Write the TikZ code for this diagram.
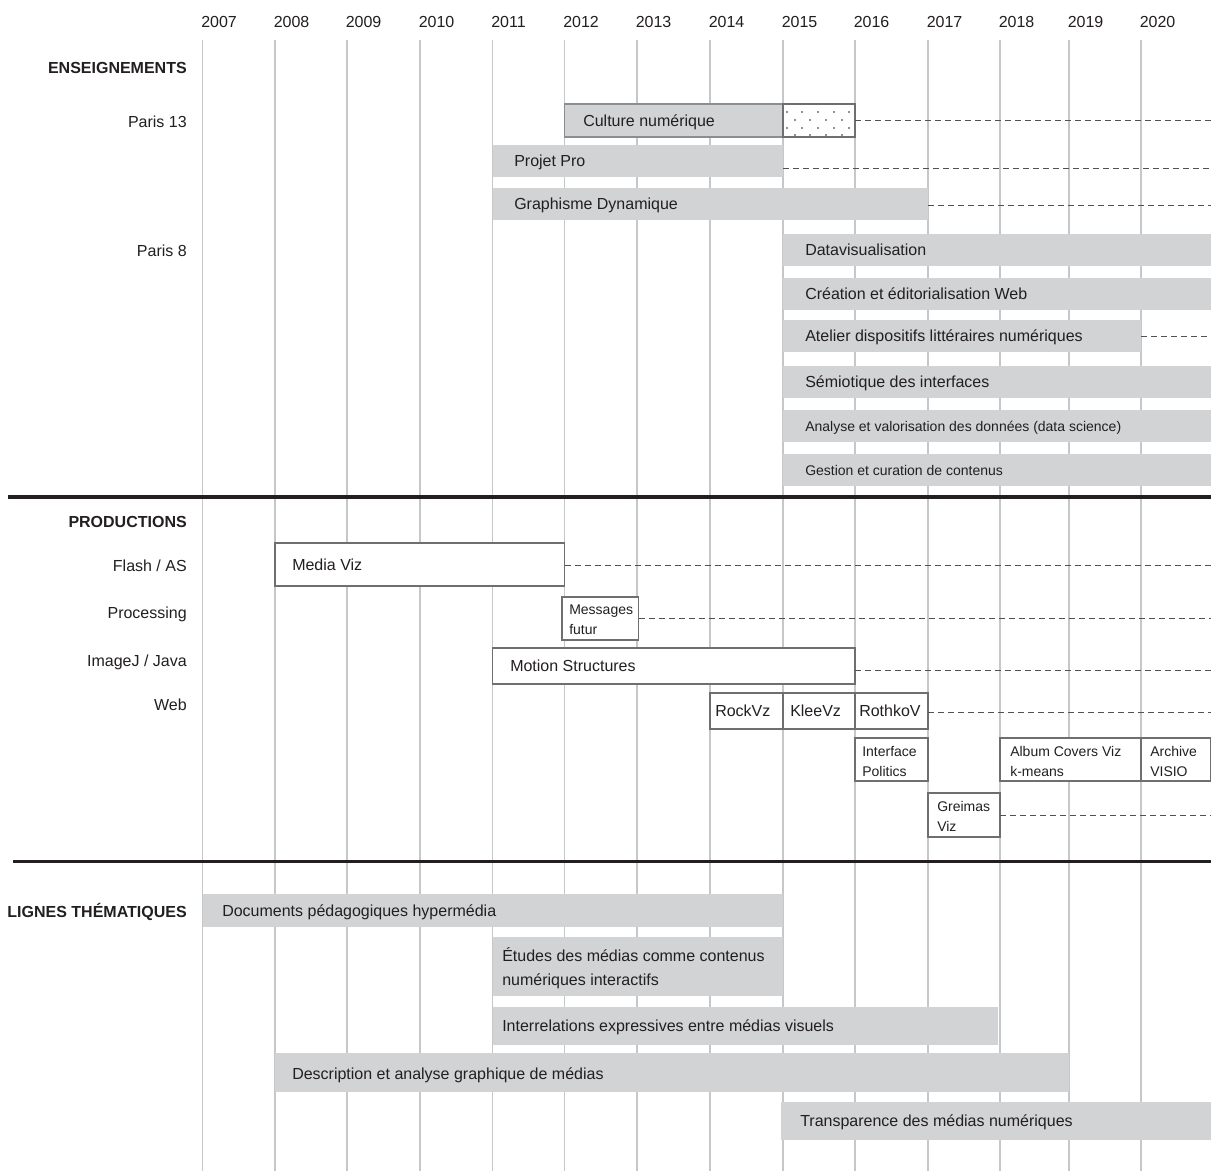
\documentclass[tikz,border=0pt]{standalone}
\usepackage{fontspec}
\setmainfont{Liberation Sans}
\usetikzlibrary{fit}
\definecolor{barfill}{RGB}{209,211,212}
\definecolor{gridcol}{RGB}{198,199,201}
\definecolor{boxline}{RGB}{110,111,113}
\definecolor{cnline}{RGB}{140,141,143}
\definecolor{dashcol}{RGB}{80,81,83}
\definecolor{ink}{RGB}{35,31,32}
\begin{document}
\begin{tikzpicture}[x=0.75pt,y=-0.75pt,
  lbl/.style={font=\fontsize{12}{14}\selectfont,text=ink,inner sep=0pt,text height=8.6pt,text depth=0pt,anchor=west},
  slbl/.style={font=\fontsize{10.5}{12}\selectfont,text=ink,inner sep=0pt,text height=7.5pt,text depth=0pt,anchor=west},
  rowlbl/.style={lbl,anchor=east},
  hdr/.style={lbl,font=\fontsize{12}{14}\selectfont\bfseries,anchor=east},
  graybar/.style={fill=barfill,draw=none,inner sep=0pt,outer sep=0pt},
  cnbar/.style={fill=barfill,draw=cnline,line width=0.8pt,inner sep=0pt,outer sep=0pt},
  wbox/.style={fill=white,draw=boxline,line width=0.8pt,inner sep=0pt,outer sep=0pt},
  dashline/.style={draw=dashcol,line width=0.75pt,dash pattern=on 4.5pt off 3pt},
  gridline/.style={draw=gridcol,line width=1.1pt},
  sepline/.style={draw=ink,line width=2.3pt}]
\useasboundingbox (0,0) rectangle (1211,1171);
\fill[white] (0,0) rectangle (1211,1171);

% year grid
\foreach \yr/\xx in {2007/202.5,2008/275,2009/347,2010/420,2011/492.5,2012/564.5,2013/637,2014/710,2015/783,2016/855,2017/928,2018/1000,2019/1069,2020/1141}{
  \draw[gridline] (\xx,40) -- (\xx,1171);
  \node[lbl] (y\yr) at (\xx-1.5,21.5) {\yr};
}

% right edge coordinates for open-ended lines
\coordinate (r1) at (1211,120.5);
\coordinate (r2) at (1211,168);
\coordinate (r3) at (1211,205);
\coordinate (r4) at (1211,336);
\coordinate (r5) at (1211,565);
\coordinate (r6) at (1211,618);
\coordinate (r7) at (1211,670);
\coordinate (r8) at (1211,712);
\coordinate (r9) at (1211,815);

% ENSEIGNEMENTS
\node[hdr] (hEns) at (187,68) {ENSEIGNEMENTS};
\node[rowlbl] (lP13) at (187,121.5) {Paris 13};
\node[rowlbl] (lP8) at (187,250.5) {Paris 8};

\node[cnbar,fit={(564.5,104) (783,137)}] (cn) {};
\node[wbox,fit={(783,104) (855,137)}] (cndot) {};
\foreach \px in {787,802,818,834,849}{\fill[ink] (\px,112) circle (0.6pt); \fill[ink] (\px,128) circle (0.6pt);}
\foreach \px in {795,810,826,842}{\fill[ink] (\px,120) circle (0.6pt); \fill[ink] (\px,135) circle (0.6pt);}
\node[lbl] (tcn) at (583,120.5) {Culture numérique};

\node[graybar,fit={(492.5,145) (783,177)}] (pp) {};
\node[lbl] (tpp) at (514,161) {Projet Pro};
\node[graybar,fit={(492.5,188) (928,220)}] (gd) {};
\node[lbl] (tgd) at (514,204) {Graphisme Dynamique};

\node[graybar,fit={(783,234) (1211,266)}] (dv) {};
\node[lbl] (tdv) at (805,250) {Datavisualisation};
\node[graybar,fit={(783,278) (1211,310)}] (cw) {};
\node[lbl] (tcw) at (805,294) {Création et éditorialisation Web};
\node[graybar,fit={(783,320) (1141,352)}] (ad) {};
\node[lbl] (tad) at (805,336) {Atelier dispositifs littéraires numériques};
\node[graybar,fit={(783,366) (1211,398)}] (si) {};
\node[lbl] (tsi) at (805,381.5) {Sémiotique des interfaces};
\node[graybar,fit={(783,410) (1211,442)}] (av) {};
\node[slbl] (tav) at (805,426) {Analyse et valorisation des données (data science)};
\node[graybar,fit={(783,454) (1211,486)}] (gc) {};
\node[slbl] (tgc) at (805,470) {Gestion et curation de contenus};

\draw[dashline] (cndot.east |- r1) -- (r1);
\draw[dashline] (pp.east |- r2) -- (r2);
\draw[dashline] (gd.east |- r3) -- (r3);
\draw[dashline] (ad.east |- r4) -- (r4);

% separator 1
\coordinate (s1a) at (8,497);
\coordinate (s1b) at (1211,497);
\draw[sepline] (s1a) -- (s1b);

% PRODUCTIONS
\node[hdr] (hProd) at (187,521.5) {PRODUCTIONS};
\node[rowlbl] (lFl) at (187,566) {Flash / AS};
\node[rowlbl] (lPr) at (187,613) {Processing};
\node[rowlbl] (lIj) at (187,661) {ImageJ / Java};
\node[rowlbl] (lWb) at (187,705) {Web};

\node[wbox,fit={(275,543) (564.5,586)}] (mv) {};
\node[lbl] (tmv) at (292,565) {Media Viz};
\node[wbox,fit={(562,597) (638.5,640)}] (mf) {};
\node[slbl] (tmf1) at (569,609) {Messages};
\node[slbl] (tmf2) at (569,629) {futur};
\node[wbox,fit={(492.5,648) (855,684)}] (ms) {};
\node[lbl] (tms) at (510,666) {Motion Structures};
\node[wbox,fit={(710,693) (783,729)}] (rv) {};
\node[lbl] (trv) at (715,711) {RockVz};
\node[wbox,fit={(783,693) (855,729)}] (kv) {};
\node[lbl] (tkv) at (790,711) {KleeVz};
\node[wbox,fit={(855,693) (928,729)}] (rk) {};
\node[lbl] (trk) at (859,711) {RothkoV};
\node[wbox,fit={(855,738) (928,781)}] (ip) {};
\node[slbl] (tip1) at (862,751) {Interface};
\node[slbl] (tip2) at (862,771) {Politics};
\node[wbox,fit={(928,793) (1000,837)}] (gv) {};
\node[slbl] (tgv1) at (937,806) {Greimas};
\node[slbl] (tgv2) at (937,826) {Viz};
\node[wbox,fit={(1000,738) (1141,781)}] (ac) {};
\node[slbl] (tac1) at (1010,751) {Album Covers Viz};
\node[slbl] (tac2) at (1010,771) {k-means};
\node[wbox,fit={(1141,738) (1210.6,781)}] (avis) {};
\node[slbl] (tavis1) at (1150,751) {Archive};
\node[slbl] (tavis2) at (1150,771) {VISIO};

\draw[dashline] (mv.east |- r5) -- (r5);
\draw[dashline] (mf.east |- r6) -- (r6);
\draw[dashline] (ms.east |- r7) -- (r7);
\draw[dashline] (rk.east |- r8) -- (r8);
\draw[dashline] (gv.east |- r9) -- (r9);

% separator 2
\coordinate (s2a) at (13,861.5);
\coordinate (s2b) at (1211,861.5);
\draw[sepline] (s2a) -- (s2b);

% LIGNES THEMATIQUES
\node[hdr] (hLig) at (187,912) {LIGNES THÉMATIQUES};
\node[graybar,fit={(202.5,894) (783,927)}] (dp) {};
\node[lbl] (tdp) at (222,911) {Documents pédagogiques hypermédia};
\node[graybar,fit={(492.5,937) (783,996)}] (em) {};
\node[lbl] (tem1) at (502,956) {Études des médias comme contenus};
\node[lbl] (tem2) at (502,979.5) {numériques interactifs};
\node[graybar,fit={(492.5,1007) (998,1045)}] (ie) {};
\node[lbl] (tie) at (502,1026) {Interrelations expressives entre médias visuels};
\node[graybar,fit={(275,1053) (1069,1092)}] (da) {};
\node[lbl] (tda) at (292,1074) {Description et analyse graphique de médias};
\node[graybar,fit={(781,1102) (1211,1140)}] (tm) {};
\node[lbl] (ttm) at (800,1121) {Transparence des médias numériques};
\end{tikzpicture}
\end{document}
